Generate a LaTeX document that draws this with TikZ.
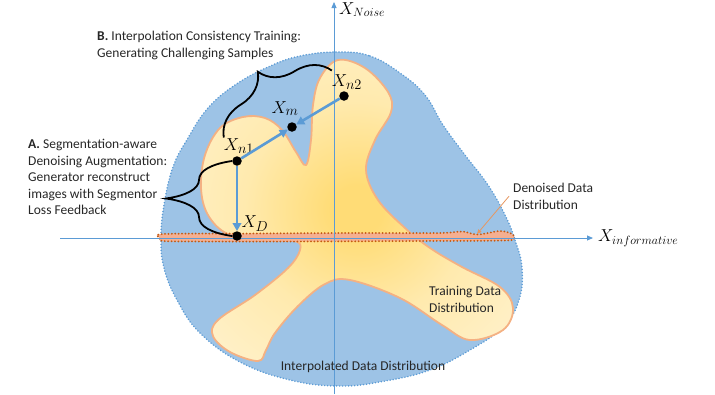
\documentclass[tikz,border=0pt]{standalone}
\usepackage{fontspec}
\setmainfont{Carlito}
\usetikzlibrary{arrows.meta,positioning,decorations.pathreplacing}

\definecolor{interpfill}{RGB}{157,195,230}
\definecolor{axisblue}{RGB}{91,155,213}
\definecolor{trainedge}{RGB}{244,177,131}
\definecolor{trainpale}{RGB}{255,242,207}
\definecolor{trainmid}{RGB}{255,234,174}
\definecolor{traincore}{RGB}{255,220,118}
\definecolor{denoisefill}{RGB}{245,175,145}
\definecolor{denoiseedge}{RGB}{197,90,17}
\definecolor{txtgray}{RGB}{38,38,38}

% soft yellow glow in the middle of the training set
\pgfdeclareradialshading{trainglow}{\pgfpoint{0bp}{0bp}}{%
  color(0bp)=(traincore); color(4bp)=(traincore); color(18bp)=(trainmid);
  color(36bp)=(trainpale); color(100bp)=(trainpale)}

\tikzset{
  interp/.style={fill=interpfill, draw=axisblue, line width=1.7pt, line cap=round, dash pattern=on 0pt off 3pt},
  train/.style={draw=trainedge, line width=1.8pt, shading=trainglow},
  denoised/.style={fill=denoisefill, draw=denoiseedge, line width=2pt, line cap=round, dash pattern=on 0pt off 3.4pt},
  axis/.style={draw=axisblue, line width=0.8pt, -{Triangle[length=6pt,width=5pt]}},
  move/.style={draw=axisblue, line width=2.6pt, -{Triangle[length=8pt,width=8.5pt]}},
  pointer/.style={draw=trainedge!70!denoiseedge, line width=0.8pt, -{Triangle[length=4.5pt,width=4pt]}},
  sample/.style={circle, fill=black, inner sep=0pt, minimum size=9.5pt},
  xlab/.style={inner sep=0pt, font=\fontsize{18}{20}\selectfont},
  ptlab/.style={inner sep=0pt, font=\fontsize{19}{21}\selectfont},
  note/.style={align=left, inner sep=0pt, text=txtgray, font=\fontsize{13.5}{16.6}\selectfont},
  curly/.style={decorate, decoration={brace, amplitude=#1}, line width=1.8pt},
}

\begin{document}
\begin{tikzpicture}[x=1pt, y=-1pt]
\useasboundingbox (0,0) rectangle (715,394);

% Data regions
\path[interp] plot[smooth cycle, tension=0.7] coordinates {
  (338,52) (370,56) (400,73) (425,95) (443,125) (465,155) (488,185)
  (505,215) (515,240) (522,268) (519,300) (503,327) (470,350) (430,370)
  (385,381) (340,386) (290,380) (240,362) (200,333) (177,300) (164,268)
  (161,238) (164,205) (173,167) (188,138) (208,108) (235,85) (268,67) (300,56)};
\shade[train] plot[smooth cycle, tension=0.6] coordinates {
  (228,234) (208,215) (201,188) (205,155) (220,128) (243,117) (265,118)
  (282,130) (296,152) (306,165) (311,140) (313,105) (320,78) (338,60)
  (365,68) (388,92) (391,112) (375,140) (366,170) (378,200) (405,228)
  (430,248) (462,267) (500,287) (513,308) (503,330) (470,340) (442,325)
  (400,298) (350,280) (325,284) (298,306) (275,333) (266,350) (258,361)
  (230,352) (213,336) (218,320) (255,295) (288,268) (300,250) (295,241)
  (262,238)};
\path[denoised] plot[smooth cycle, tension=0.5] coordinates {
  (163,234) (250,233.5) (350,233) (440,233) (462,231.5) (478,234.5)
  (500,231) (512,234) (514,238) (505,240.5) (420,241) (300,241.5)
  (200,241.5) (163,241) (160,238)};

% Axes
\coordinate (xL) at (60,238);
\coordinate (xR) at (593,238);
\coordinate (yB) at (334,394);
\coordinate (yT) at (334,2);
\draw[axis] (xL) -- (xR);
\draw[axis] (yB) -- (yT);
\node[xlab, right=5pt of xR] (xinf) {$X_{informative}$};
\node[xlab, below right=0pt and 5pt of yT] (xnoise) {$X_{Noise}$};

% Samples
\node[sample] (n1) at (237,161) {};
\node[sample] (m)  at (292,127) {};
\node[sample] (n2) at (344,96) {};
\node[sample] (D)  at (237,236) {};
\node[ptlab, above=2pt of n1, xshift=2pt] (ln1) {$X_{n1}$};
\node[ptlab, above=6pt of m, xshift=-7pt] (lm) {$X_m$};
\node[ptlab, above=1pt of n2, xshift=3pt] (ln2) {$X_{n2}$};
\node[ptlab, above right=1pt and 1pt of D] (lD) {$X_D$};

\draw[move] (n1) -- (m);
\draw[move] (n2) -- (m);
\draw[move] (n1) -- (D);

% Braces
\draw[curly=66pt] (D.west) -- (n1.west);
\draw[curly=38pt] ([yshift=1pt]ln1.north west) -- ([yshift=4pt]ln2.north west);

% Notes
\node[note, anchor=north west] (tB) at (97,31)
  {\textbf{B.} Interpolation Consistency Training:\\Generating Challenging Samples};
\node[note, anchor=north west] (tA) at (28,139)
  {\textbf{A.} Segmentation-aware\\Denoising Augmentation:\\Generator reconstruct\\images with Segmentor\\Loss Feedback};
\node[note, anchor=north west] (dnote) at (513,183) {Denoised Data\\Distribution};
\node[note, anchor=north west] (tnote) at (429,286) {Training Data\\Distribution};
\node[note] (inote) at (363,367) {Interpolated Data Distribution};

\coordinate (dtip) at (477,234);
\draw[pointer] ([xshift=-4pt]dnote.west) -- (dtip);

\end{tikzpicture}
\end{document}
